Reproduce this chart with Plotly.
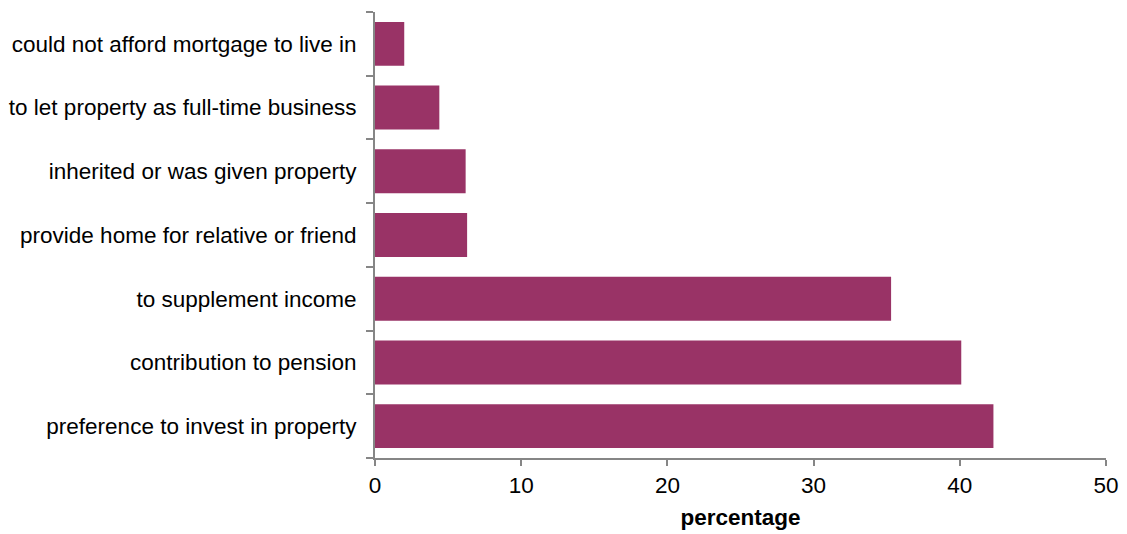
import plotly.graph_objects as go

categories = [
    "preference to invest in property",
    "contribution to pension",
    "to supplement income",
    "provide home for relative or friend",
    "inherited or was given property",
    "to let property as full-time business",
    "could not afford mortgage to live in",
]
values = [42.3, 40.1, 35.3, 6.3, 6.2, 4.4, 2.0]
x_ticks = [0, 10, 20, 30, 40, 50]

fig = go.Figure(go.Bar(
    x=values, y=categories, orientation="h",
    marker=dict(color="#993366", line=dict(width=0)),
))

# page body adds an 8px offset; figure sized to fit the 1127x534 window
fig.update_layout(
    width=1119, height=526,
    margin=dict(l=367, r=21, t=4, b=76),
    paper_bgcolor="white", plot_bgcolor="white",
    font=dict(family="Liberation Sans, Arial, sans-serif", size=22.5, color="black"),
    bargap=0.31,
    showlegend=False,
)
fig.update_xaxes(
    range=[0, 50], tickvals=x_ticks, showgrid=False, zeroline=False,
    showline=True, linecolor="#868686", linewidth=2,
    ticks="outside", ticklen=6, tickwidth=2, tickcolor="#868686",
    title=dict(text="<b>percentage</b>", font=dict(size=22.5), standoff=12),
    automargin=False,
)
fig.update_yaxes(
    showgrid=False, zeroline=False,
    showline=True, linecolor="#868686", linewidth=2,
    ticks="outside", ticklen=7, tickwidth=2, tickcolor="#868686",
    tickson="boundaries", ticklabelstandoff=12,
    automargin=False,
)

fig.write_html("out.html")
